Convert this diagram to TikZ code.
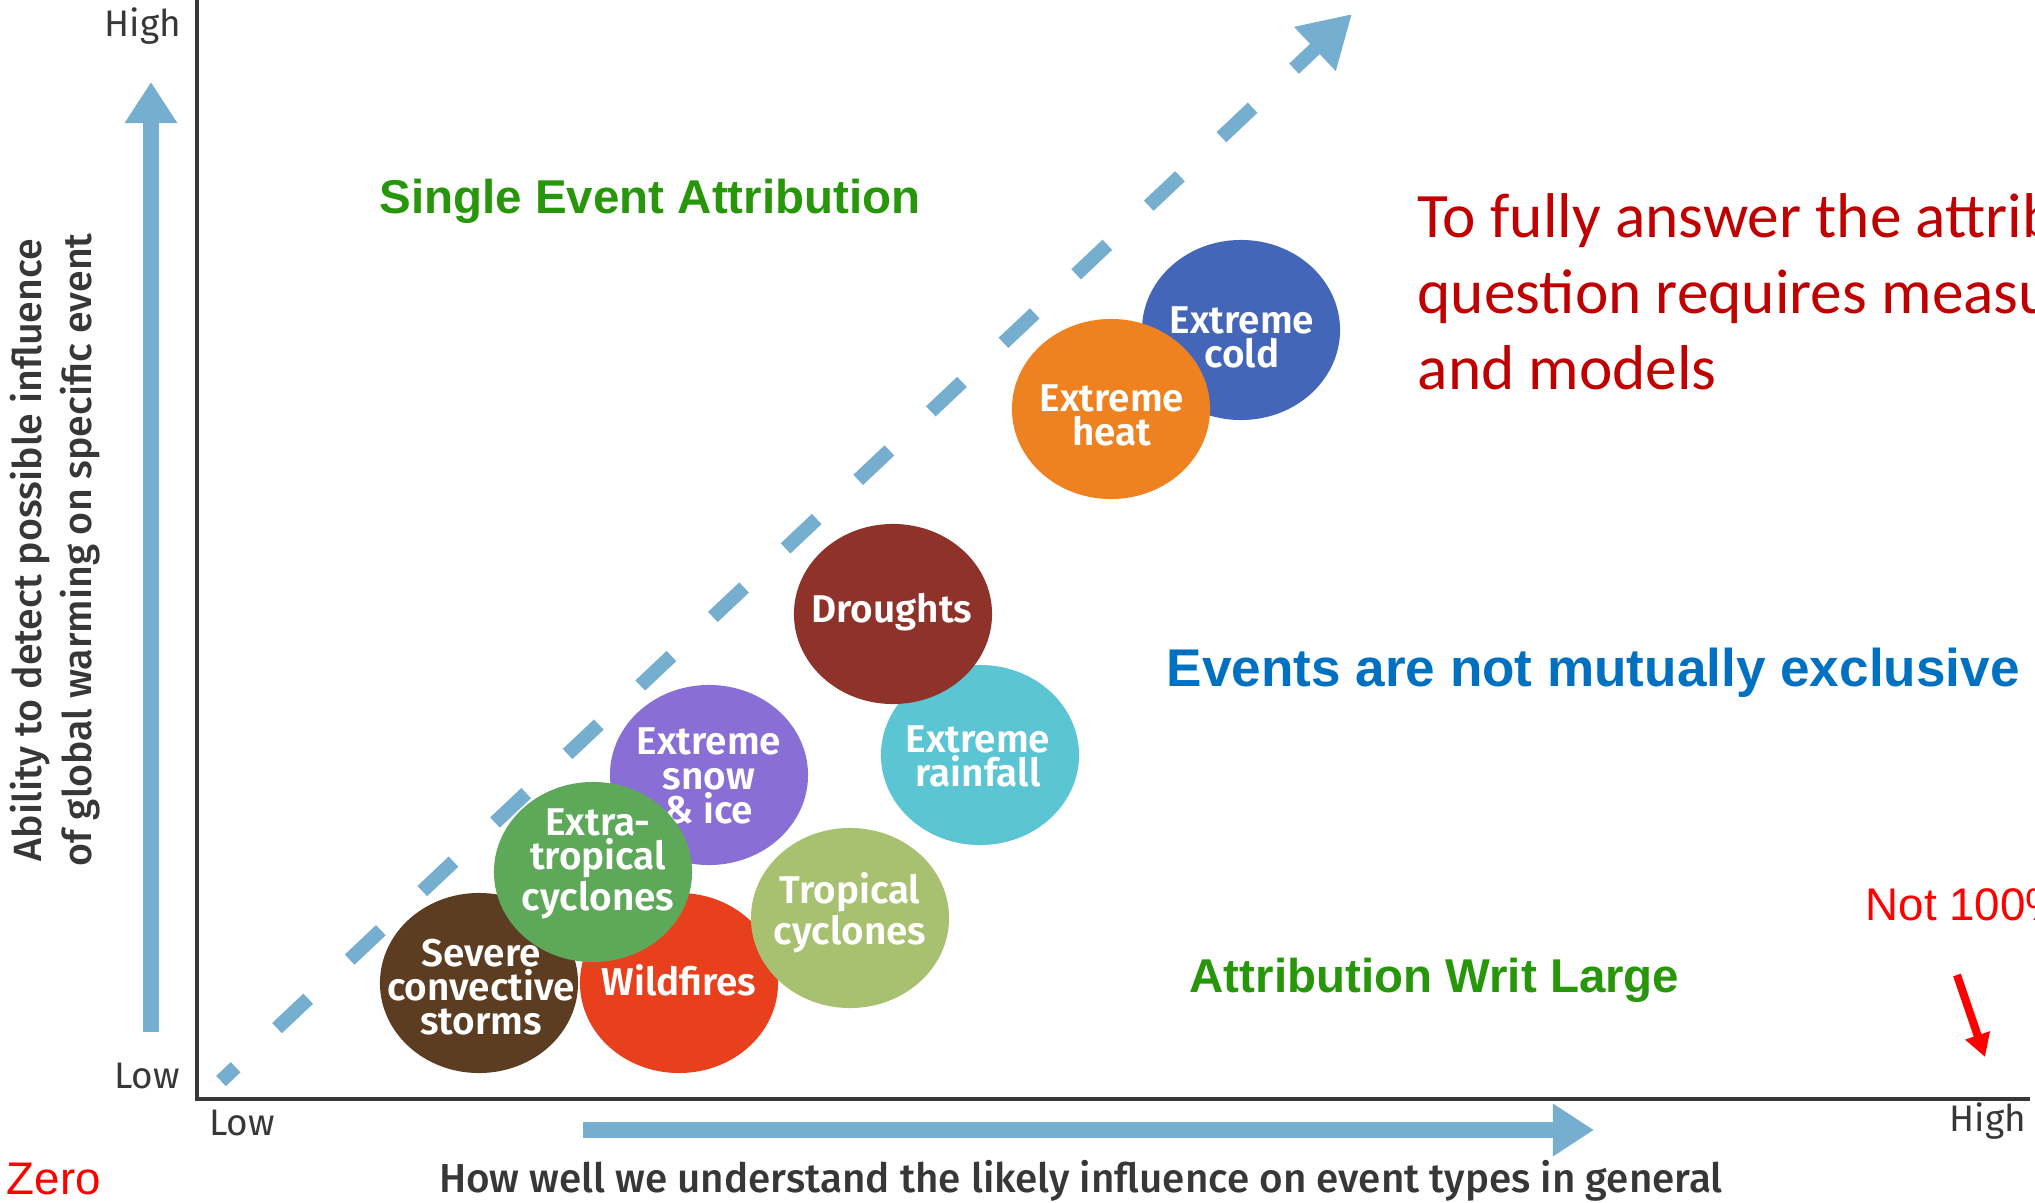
\documentclass[tikz,border=0pt]{standalone}
\usepackage{fontspec}
\setmainfont{Fira Sans}
\newfontfamily\bubblefont{Fira Sans SemiBold}
\newfontfamily\titlefont{Fira Sans Medium}
\newfontfamily\arialfont{Liberation Sans}
\newfontfamily\calibrifont{Carlito}
\usetikzlibrary{arrows.meta, shapes.geometric}

\definecolor{axisblue}{RGB}{117,174,206}
\definecolor{framegrey}{RGB}{55,55,55}
\definecolor{coldc}{RGB}{68,102,184}
\definecolor{heatc}{RGB}{238,130,32}
\definecolor{droughtc}{RGB}{142,50,42}
\definecolor{rainc}{RGB}{91,197,211}
\definecolor{snowc}{RGB}{137,110,214}
\definecolor{extratropc}{RGB}{94,168,90}
\definecolor{stormc}{RGB}{92,61,34}
\definecolor{firec}{RGB}{232,64,28}
\definecolor{tropc}{RGB}{167,193,112}
\definecolor{titlegreen}{RGB}{40,150,10}
\definecolor{titleblue}{RGB}{0,112,192}
\definecolor{notered}{RGB}{192,0,0}

\tikzset{
  bubble/.style={ellipse, fill=#1, minimum width=1.98cm, minimum height=1.8cm, inner sep=0pt},
  bubbletext/.style={text=white, align=center, inner sep=0pt,
    font=\bubblefont\fontsize{11}{9.7}\selectfont},
  tick/.style={text=framegrey, inner sep=0pt, font=\fontsize{10.5}{12}\selectfont},
  axistitle/.style={text=framegrey, align=center, inner sep=0pt},
  axisarrow/.style={axisblue, line width=4.6pt,
    -{Triangle[width=14.2pt, length=11.7pt]}},
  trend/.style={axisblue, line width=4pt, dash pattern=on 12.2pt off 16.2pt,
    dash phase=6.5pt, -{Triangle[width=16.2pt, length=14.5pt]}},
  greentitle/.style={text=titlegreen, inner sep=0pt,
    font=\arialfont\bfseries\fontsize{13.5}{16}\selectfont},
  redtag/.style={text=red, inner sep=0pt, font=\arialfont\fontsize{13}{15}\selectfont},
}

\begin{document}
\begin{tikzpicture}[x=0.01cm, y=-0.01cm]
\useasboundingbox (0,0) rectangle (2035,1203);

% arrows along the axes
\coordinate (ybot) at (151,1032);
\coordinate (ytop) at (151,82);
\coordinate (xleft) at (583,1130);
\coordinate (xright) at (1594,1130);
\draw[axisarrow] (ybot) -- (ytop);
\draw[axisarrow] (xleft) -- (xright);

% frame
\coordinate (origin) at (197,1099);
\draw[framegrey, line width=1.1pt] (197,0) -- (origin) -- (2030,1099);

% diagonal trend
\coordinate (tstart) at (221,1081);
\coordinate (tend) at (1352,14);
\draw[trend] (tstart) -- (tend);

% event types
\node[bubble=coldc] (cold) at (1241,330) {};
\node[bubbletext] at (1242,337) {Extreme\\cold};
\node[bubble=heatc] (heat) at (1111,409) {};
\node[bubbletext] at (1112,415) {Extreme\\heat};
\node[bubble=rainc] (rain) at (980,755) {};
\node[bubbletext] at (978,756) {Extreme\\rainfall};
\node[bubble=droughtc] (drought) at (893,614) {};
\node[bubbletext] at (892,612) {Droughts};
\node[bubble=snowc] (snow) at (709,775) {};
\node[bubbletext] at (709,776) {Extreme\\snow\\\& ice};
\node[bubble=firec] (fire) at (679,983) {};
\node[bubble=stormc] (storm) at (479,983) {};
\node[bubbletext] at (481,987) {Severe\\convective\\storms};
\node[bubbletext] at (679,980) {Wildfires};
\node[bubble=tropc] (trop) at (850,918) {};
\node[bubbletext] at (850,913) {Tropical\\cyclones};
\node[bubble=extratropc] (extratrop) at (593,872) {};
\node[bubbletext] at (598,864) {Extra-\\tropical\\cyclones};

% axis labels
\node[tick] (yhigh) at (143,26) {High};
\node[tick] (ylow) at (147,1076) {Low};
\node[tick] (xlow) at (242,1123) {Low};
\node[tick] (xhigh) at (1988,1121) {High};
\node[axistitle, rotate=90, font=\titlefont\fontsize{11.2}{14}\selectfont] (ytitle) at (55,550)
  {Ability to detect possible influence\\of global warming on specific event};
\node[axistitle, font=\titlefont\fontsize{11.5}{14}\selectfont] (xtitle) at (1081,1181)
  {How well we understand the likely influence on event types in general};

% annotations
\node[greentitle, anchor=west] (single) at (379,201) {Single Event Attribution};
\node[greentitle, anchor=west] (writ) at (1189,980) {Attribution Writ Large};
\node[text=titleblue, anchor=west, inner sep=0pt,
  font=\arialfont\bfseries\fontsize{15.1}{18}\selectfont] (exclusive) at (1166,673)
  {Events are not mutually exclusive};
\node[text=notered, anchor=north west, inner sep=0pt, align=left,
  font=\calibrifont\fontsize{18}{21.6}\selectfont] (fully) at (1417,193)
  {To fully answer the attribution\\question requires measurements\\and models};
\node[redtag] (zero) at (54,1179) {Zero};
\node[redtag, anchor=base west] (notfull) at (1865,920) {Not 100\%};
\coordinate (ntail) at (1957,975);
\coordinate (nhead) at (1985,1057);
\draw[red, line width=2.3pt, -{Triangle[width=7pt, length=6.5pt]}] (ntail) -- (nhead);
\end{tikzpicture}
\end{document}
